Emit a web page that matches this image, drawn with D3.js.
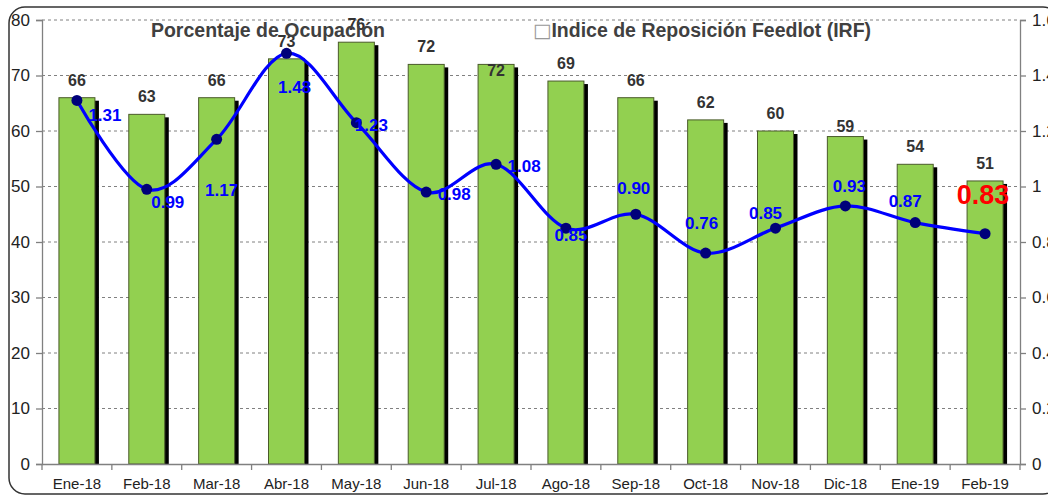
<!DOCTYPE html>
<html><head><meta charset="utf-8">
<script src="https://cdn.jsdelivr.net/npm/d3@7"></script>
<style>body{margin:0;background:#fff}svg{display:block;font-family:"Liberation Sans",Arial,sans-serif}</style>
</head><body>
<script>
const months = ["Ene-18","Feb-18","Mar-18","Abr-18","May-18","Jun-18","Jul-18","Ago-18","Sep-18","Oct-18","Nov-18","Dic-18","Ene-19","Feb-19"];
const ocupacion = [66,63,66,73,76,72,72,69,66,62,60,59,54,51];
const irf = [1.31,0.99,1.17,1.48,1.23,0.98,1.08,0.85,0.90,0.76,0.85,0.93,0.87,0.83];
const leftTicks = [0,10,20,30,40,50,60,70,80];
const rightTicks = [0,0.2,0.4,0.6,0.8,1,1.2,1.4,1.6];
// label placement (layout only)
const irfLabelOffset = [[28,15],[21,13],[5,51],[8,34],[15,2],[28,2],[28,2],[5,7],[-2,-26],[-4,-30],[-10,-15],[4,-20],[-10,-22],[-2,-36]];
const barLabelShift = [0,0,0,0,0,0,24,0,0,0,0,7,0,0];

const W=1048,H=497;
const m={l:42,r:1020,t:20,b:464};
const svg=d3.select("body").append("svg").attr("width",W).attr("height",H);

svg.append("rect").attr("x",9).attr("y",7).attr("width",1050).attr("height",487).attr("rx",16)
  .attr("fill","#fff").attr("stroke","#333").attr("stroke-width",1.5);

const x=d3.scaleBand().domain(months).range([m.l,m.r]);
const yL=d3.scaleLinear().domain([0,80]).range([m.b,m.t]);
const yR=d3.scaleLinear().domain([0,1.6]).range([m.b,m.t]);

// grid
svg.append("g").selectAll("line").data(leftTicks.filter(d=>d>0)).join("line")
  .attr("x1",m.l).attr("x2",m.r).attr("y1",d=>yL(d)).attr("y2",d=>yL(d))
  .attr("stroke","#808080").attr("stroke-width",1).attr("stroke-dasharray","3,3");

// bars
const bw=36;
const bars=svg.append("g");
bars.selectAll(".sh").data(ocupacion).join("rect")
  .attr("x",(d,i)=>x(months[i])+x.bandwidth()/2-bw/2+4).attr("y",d=>yL(d)+3)
  .attr("width",bw).attr("height",d=>m.b-yL(d)-3).attr("fill","#000");
bars.selectAll(".b").data(ocupacion).join("rect")
  .attr("x",(d,i)=>x(months[i])+x.bandwidth()/2-bw/2).attr("y",d=>yL(d))
  .attr("width",bw).attr("height",d=>m.b-yL(d)).attr("fill","#92D050")
  .attr("stroke","#4a5a2a").attr("stroke-width",1);

// axes
const axL=d3.axisLeft(yL).tickValues(leftTicks).tickSize(6).tickPadding(6).tickFormat(d3.format("d"));
const gL=svg.append("g").attr("transform",`translate(${m.l},0)`).call(axL);
const axR=d3.axisRight(yR).tickValues(rightTicks).tickSize(6).tickPadding(6).tickFormat(d=>String(+d.toFixed(1)));
const gR=svg.append("g").attr("transform",`translate(${m.r},0)`).call(axR);
const axB=d3.axisBottom(x).tickSize(0).tickPadding(14);
const gB=svg.append("g").attr("transform",`translate(0,${m.b})`).call(axB);
[gL,gR,gB].forEach(g=>{g.select(".domain").attr("stroke","#808080").attr("stroke-width",1.3);
  g.selectAll(".tick line").attr("stroke","#808080").attr("stroke-width",1.3);
  g.selectAll("text").attr("fill","#222").attr("font-family","Liberation Sans, Arial, sans-serif");});
gL.selectAll("text").attr("font-size",17);
gR.selectAll("text").attr("font-size",17);
gB.selectAll("text").attr("font-size",15);
// bottom category boundary ticks
svg.append("g").selectAll("line").data(months.concat(["end"])).join("line")
  .attr("x1",(d,i)=>m.l+i*x.bandwidth()).attr("x2",(d,i)=>m.l+i*x.bandwidth())
  .attr("y1",m.b).attr("y2",m.b+6).attr("stroke","#808080").attr("stroke-width",1.3);

// bar labels
svg.append("g").selectAll("text").data(ocupacion).join("text")
  .attr("x",(d,i)=>x(months[i])+x.bandwidth()/2).attr("y",(d,i)=>yL(d)-12+barLabelShift[i])
  .attr("text-anchor","middle").attr("font-size",16).attr("font-weight","bold").attr("fill","#333")
  .text(d=>d);

// line
const pts=irf.map((v,i)=>[x(months[i])+x.bandwidth()/2,yR(v)]);
svg.append("path").attr("d",d3.line().curve(d3.curveCatmullRom.alpha(0))(pts))
  .attr("fill","none").attr("stroke","#0000FF").attr("stroke-width",3.2);
svg.append("g").selectAll("circle").data(pts).join("circle")
  .attr("cx",d=>d[0]).attr("cy",d=>d[1]).attr("r",5.5).attr("fill","#00007A");

// line labels
svg.append("g").selectAll("text").data(irf).join("text")
  .attr("x",(d,i)=>pts[i][0]+irfLabelOffset[i][0]).attr("y",(d,i)=>pts[i][1]+irfLabelOffset[i][1]+6)
  .attr("text-anchor","middle").attr("font-weight","bold")
  .attr("font-size",(d,i)=>i===irf.length-1?27:17)
  .attr("fill",(d,i)=>i===irf.length-1?"#FF0000":"#0000FF")
  .text(d=>d.toFixed(2));

// titles
svg.append("text").attr("x",268).attr("y",37).attr("text-anchor","middle").attr("font-size",19.5)
  .attr("font-weight","bold").attr("fill","#404040").text("Porcentaje de Ocupación");
const t2=svg.append("text").attr("x",533).attr("y",37).attr("font-size",19.5).attr("font-weight","bold").attr("fill","#404040");
t2.append("tspan").attr("fill","#999").attr("font-weight","normal").attr("font-family","DejaVu Sans").text("□");
t2.append("tspan").text("Indice de Reposición Feedlot (IRF)");
</script>
</body></html>
